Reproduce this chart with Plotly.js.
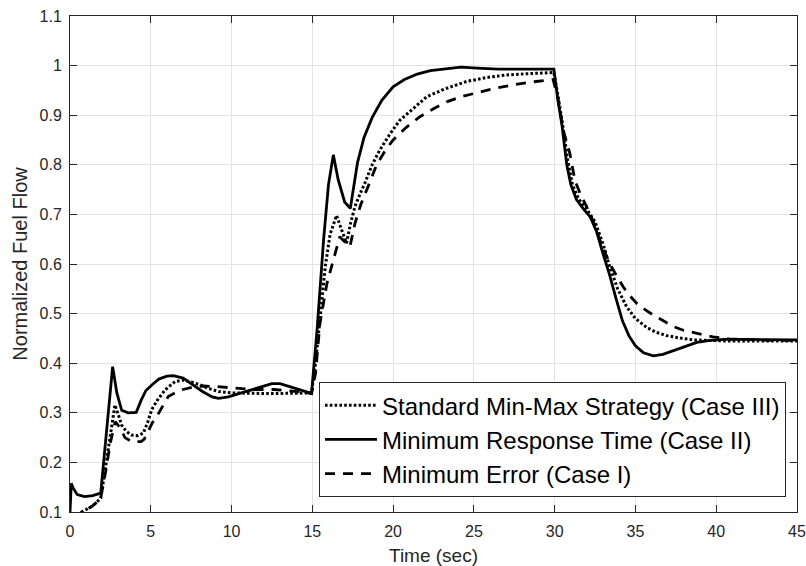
<!DOCTYPE html>
<html>
<head>
<meta charset="utf-8">
<script src="https://cdn.plot.ly/plotly-3.0.1.min.js"></script>
<style>html,body{margin:0;padding:0;background:#fff;}#chart{width:806px;height:566px;}</style>
</head>
<body>
<div id="chart"></div>
<script>
// Case III: Standard Min-Max Strategy (dotted)
const tCase3 = [0.3, 0.72, 1.0, 1.34, 1.6, 1.9, 2.2, 2.5, 2.78, 3.0, 3.2, 3.5, 3.82, 4.2, 4.54, 4.8, 5.05, 5.4, 5.88, 6.5, 7.0, 7.5, 8.0, 8.6, 9.2, 10, 11, 12, 13, 14, 14.95, 15.2, 15.5, 15.8, 16.1, 16.5, 16.8, 17.12, 17.35, 17.64, 18.0, 18.25, 18.7, 19.18, 19.8, 20.42, 21.2, 22.07, 23.2, 24.55, 25.8, 27.0, 28.5, 29.95, 30.2, 30.5, 30.8, 31.1, 31.5, 32.0, 32.5, 33.0, 33.4, 33.9, 34.45, 35.0, 35.7, 36.3, 36.9, 37.7, 38.6, 39.5, 40.5, 42, 43.5, 45];
const vCase3 = [0.085, 0.1, 0.105, 0.111, 0.118, 0.128, 0.19, 0.26, 0.316, 0.295, 0.275, 0.262, 0.255, 0.254, 0.259, 0.28, 0.306, 0.325, 0.346, 0.363, 0.366, 0.362, 0.357, 0.349, 0.343, 0.34, 0.339, 0.339, 0.339, 0.34, 0.34, 0.4, 0.5, 0.595, 0.66, 0.698, 0.67, 0.642, 0.68, 0.716, 0.745, 0.763, 0.8, 0.83, 0.862, 0.89, 0.912, 0.937, 0.953, 0.968, 0.976, 0.981, 0.984, 0.986, 0.94, 0.88, 0.81, 0.76, 0.73, 0.71, 0.685, 0.64, 0.595, 0.55, 0.514, 0.49, 0.472, 0.462, 0.456, 0.451, 0.447, 0.446, 0.445, 0.445, 0.445, 0.445];

// Case II: Minimum Response Time (solid)
const tCase2 = [0, 0.08, 0.2, 0.45, 0.9, 1.4, 1.9, 2.3, 2.64, 2.9, 3.2, 3.6, 4.1, 4.4, 4.7, 5.1, 5.5, 6.0, 6.4, 7.0, 7.6, 8.2, 8.8, 9.2, 9.8, 10.5, 11.2, 11.8, 12.5, 13.0, 13.6, 14.3, 14.95, 15.3, 15.7, 16.0, 16.3, 16.6, 17.0, 17.35, 17.55, 17.8, 18.2, 18.7, 19.3, 20.0, 20.7, 21.5, 22.3, 23.2, 24.2, 25.2, 26.5, 28, 29.95, 30.2, 30.45, 30.75, 31.0, 31.35, 31.8, 32.2, 32.6, 33.0, 33.4, 33.8, 34.2, 34.6, 35.0, 35.5, 36.1, 36.7, 37.3, 38.0, 38.8, 39.6, 40.5, 42, 43.5, 45];
const vCase2 = [0.1, 0.158, 0.148, 0.135, 0.131, 0.133, 0.138, 0.27, 0.393, 0.34, 0.305, 0.3, 0.301, 0.325, 0.345, 0.357, 0.368, 0.374, 0.375, 0.37, 0.357, 0.343, 0.332, 0.329, 0.332, 0.339, 0.345, 0.351, 0.359, 0.359, 0.353, 0.345, 0.339, 0.47, 0.65, 0.76, 0.82, 0.77, 0.725, 0.712, 0.75, 0.805, 0.855, 0.895, 0.93, 0.957, 0.972, 0.983, 0.99, 0.994, 0.997, 0.995, 0.993, 0.993, 0.993, 0.93, 0.88, 0.8, 0.76, 0.73, 0.71, 0.695, 0.665, 0.62, 0.578, 0.53, 0.485, 0.455, 0.435, 0.421, 0.415, 0.418, 0.425, 0.434, 0.442, 0.446, 0.448, 0.448, 0.447, 0.447];

// Case I: Minimum Error (dashed)
const tCase1 = [0.3, 0.72, 1.0, 1.34, 1.6, 1.9, 2.2, 2.5, 2.8, 3.1, 3.4, 3.82, 4.4, 4.6, 4.8, 5.1, 5.36, 5.7, 6.08, 6.6, 7.0, 7.6, 8.25, 9.0, 10.1, 11.3, 12.6, 13.5, 14.3, 14.95, 15.2, 15.47, 15.9, 16.3, 16.7, 17.0, 17.33, 17.64, 18.0, 18.5, 18.98, 19.5, 20.0, 20.8, 21.66, 22.5, 23.31, 24.3, 25.37, 26.4, 27.43, 28.6, 29.9, 30.2, 30.53, 30.94, 31.25, 31.6, 31.97, 32.4, 32.8, 33.4, 33.8, 34.24, 34.6, 35.07, 35.6, 36.1, 36.7, 37.33, 38.0, 38.78, 39.8, 40.8, 42, 43.5, 45];
const vCase1 = [0.085, 0.1, 0.105, 0.111, 0.118, 0.128, 0.18, 0.24, 0.282, 0.27, 0.25, 0.242, 0.242, 0.247, 0.26, 0.28, 0.292, 0.312, 0.333, 0.342, 0.347, 0.352, 0.354, 0.353, 0.35, 0.347, 0.347, 0.345, 0.342, 0.339, 0.38, 0.48, 0.56, 0.608, 0.655, 0.645, 0.635, 0.682, 0.72, 0.76, 0.8, 0.828, 0.85, 0.875, 0.897, 0.913, 0.927, 0.938, 0.947, 0.955, 0.961, 0.967, 0.972, 0.935, 0.87, 0.823, 0.769, 0.74, 0.716, 0.685, 0.648, 0.601, 0.578, 0.554, 0.538, 0.521, 0.508, 0.497, 0.486, 0.474, 0.466, 0.46, 0.453, 0.449, 0.447, 0.446, 0.446];

const seriesNames = ['Standard Min-Max Strategy (Case III)', 'Minimum Response Time (Case II)', 'Minimum Error (Case I)'];
const xTickVals = [0, 5, 10, 15, 20, 25, 30, 35, 40, 45];
const yTickVals = [0.1, 0.2, 0.3, 0.4, 0.5, 0.6, 0.7, 0.8, 0.9, 1, 1.1];
const yTickText = ['0.1', '0.2', '0.3', '0.4', '0.5', '0.6', '0.7', '0.8', '0.9', '1', '1.1'];
const xTitle = 'Time (sec)';
const yTitle = 'Normalized Fuel Flow';

const FONT = 'Liberation Sans, Arial, Helvetica, sans-serif';
const AX = '#262626';

const traces = [
  {x: tCase3, y: vCase3, name: seriesNames[0], mode: 'lines', line: {color: '#000', width: 3, dash: '2.6px,2.2px'}},
  {x: tCase2, y: vCase2, name: seriesNames[1], mode: 'lines', line: {color: '#000', width: 2.8}},
  {x: tCase1, y: vCase1, name: seriesNames[2], mode: 'lines', line: {color: '#000', width: 2.8, dash: '10px,8px'}}
];

const axisCommon = {
  showline: true, mirror: 'ticks', linecolor: AX, linewidth: 1,
  ticks: 'inside', ticklen: 7, tickcolor: AX, tickwidth: 1,
  showgrid: true, gridcolor: '#e3e3e3', gridwidth: 1,
  zeroline: false,
  tickfont: {family: FONT, size: 16, color: AX}
};

const layout = {
  width: 806, height: 566,
  margin: {l: 70, r: 9, t: 16, b: 54},
  paper_bgcolor: '#fff', plot_bgcolor: '#fff',
  showlegend: true,
  xaxis: Object.assign({}, axisCommon, {
    range: [0, 45], tickmode: 'array', tickvals: xTickVals,
    title: {text: xTitle, font: {family: FONT, size: 19, color: AX}, standoff: 10},
    ticklabelstandoff: 5
  }),
  yaxis: Object.assign({}, axisCommon, {
    range: [0.1, 1.1], tickmode: 'array', tickvals: yTickVals, ticktext: yTickText,
    title: {text: yTitle, font: {family: FONT, size: 20, color: AX}, standoff: 6},
    ticklabelstandoff: 4
  }),
  legend: {
    x: 0.3425, y: 0.262, xanchor: 'left', yanchor: 'top',
    bgcolor: '#fff', bordercolor: AX, borderwidth: 1,
    font: {family: FONT, size: 24, color: '#000'},
    tracegroupgap: 0, itemwidth: 52
  }
};

Plotly.newPlot('chart', traces, layout, {displayModeBar: false, staticPlot: true});
</script>
</body>
</html>
